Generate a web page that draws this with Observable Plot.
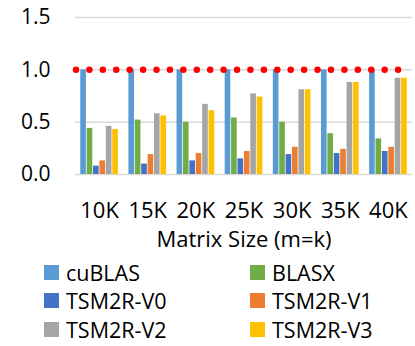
<!DOCTYPE html>
<html>
<head>
<meta charset="utf-8">
<script src="https://cdn.jsdelivr.net/npm/d3@7"></script>
<script src="https://cdn.jsdelivr.net/npm/@observablehq/plot@0.6"></script>
<style>
  html, body { margin: 0; padding: 0; background: #fff; }
  #chart { width: 415px; font-family: "Open Sans", sans-serif; }
  .legend { display: grid; grid-template-columns: 206px 165px; padding-left: 44px; margin-top: 3px; }
  .item { display: flex; align-items: center; height: 28.5px; font-size: 21.5px; color: #000; }
  .sw { width: 15px; height: 15px; margin-right: 7px; flex: none; }
</style>
</head>
<body>
<div id="chart"></div>
<script>
const categories = ["10K", "15K", "20K", "25K", "30K", "35K", "40K"];
const series = ["cuBLAS", "BLASX", "TSM2R-V0", "TSM2R-V1", "TSM2R-V2", "TSM2R-V3"];
const cuBLAS = [1.0, 1.0, 1.0, 1.0, 1.0, 1.0, 1.0];
const BLASX  = [0.44, 0.52, 0.50, 0.54, 0.50, 0.39, 0.34];
const V0     = [0.08, 0.10, 0.13, 0.15, 0.19, 0.20, 0.22];
const V1     = [0.13, 0.19, 0.20, 0.22, 0.26, 0.24, 0.26];
const V2     = [0.46, 0.58, 0.67, 0.77, 0.81, 0.88, 0.92];
const V3     = [0.43, 0.56, 0.61, 0.74, 0.81, 0.88, 0.92];
const colors = ["#5B9BD5", "#70AD47", "#4472C4", "#ED7D31", "#A5A5A5", "#FFC000"];
const yTicks = [0, 0.5, 1.0, 1.5];
const baseline = [1.0];

const values = [cuBLAS, BLASX, V0, V1, V2, V3];
const data = [];
categories.forEach((c, i) => series.forEach((s, j) => data.push({cat: c, series: s, value: values[j][i]})));

const W = 415, ML = 75, MR = 3;
const frameW = W - ML - MR;
const facetStep = frameW / categories.length;
const lastCat = categories[categories.length - 1];

const chart = Plot.plot({
  width: W,
  height: 255,
  marginLeft: ML,
  marginRight: MR,
  marginTop: 17,
  marginBottom: 81,
  style: {fontFamily: "Open Sans, sans-serif", fontSize: "21px", color: "#000", background: "#fff", overflow: "visible"},
  y: {domain: [0, 1.5]},
  fx: {domain: categories, padding: 0, round: false},
  x: {domain: series, paddingInner: 0.12, paddingOuter: 0.82, round: false, axis: null},
  color: {domain: series, range: colors},
  marks: [
    Plot.ruleY(yTicks, {stroke: "#d9d9d9", strokeWidth: 1.5}),
    Plot.barY(data, {fx: "cat", x: "series", y: "value", fill: "series"}),
    Plot.ruleY(baseline, {fx: baseline.map(() => lastCat), y: d => d, stroke: "#ff0000", strokeWidth: 6.5,
      strokeDasharray: "0,13.42", strokeLinecap: "round",
      insetLeft: -(frameW - facetStep) + 1, insetRight: 12}),
    Plot.axisY({ticks: yTicks, tickSize: 0, tickPadding: 25, tickFormat: ".1f", label: null, fontSize: 21}),
    Plot.axisFx({anchor: "bottom", tickSize: 0, tickPadding: 28, fontSize: 22, label: "Matrix Size (m=k)", labelAnchor: "center", labelOffset: 72})
  ]
});
document.getElementById("chart").appendChild(chart);

const legend = d3.select("#chart").append("div").attr("class", "legend");
const items = legend.selectAll(".item").data(series).join("div").attr("class", "item");
items.append("div").attr("class", "sw").style("background", (d, i) => colors[i]);
items.append("span").text(d => d);
</script>
</body>
</html>
